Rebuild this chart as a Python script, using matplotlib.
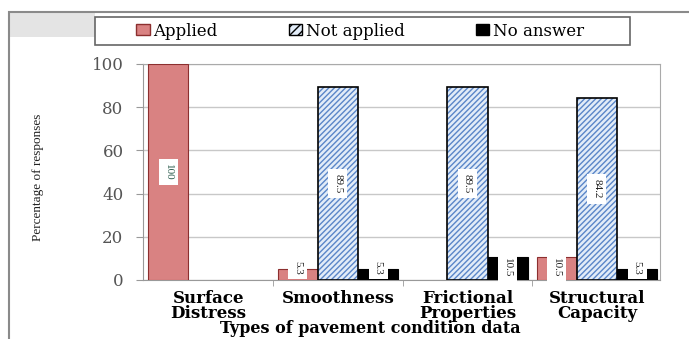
import matplotlib
matplotlib.use("Agg")
import matplotlib.pyplot as plt
from matplotlib.patches import Rectangle, Patch
import numpy as np

categories = ["Surface\nDistress", "Smoothness", "Frictional\nProperties", "Structural\nCapacity"]
series_names = ["Applied", "Not applied", "No answer"]
applied = [100, 5.3, 0, 10.5]
not_applied = [0, 89.5, 89.5, 84.2]
no_answer = [0, 5.3, 10.5, 5.3]
y_ticks = [0, 20, 40, 60, 80, 100]

serif = ["DejaVu Serif"]
plt.rcParams["font.family"] = serif

W, H = 689, 339
fig = plt.figure(figsize=(W / 100, H / 100), dpi=100)

# light grey band behind the top-left of the chart frame
fig.patches.append(Rectangle((9 / W, 1 - 37 / H), (95 - 9) / W, 25 / H, transform=fig.transFigure,
                             facecolor="#e4e4e4", edgecolor="none", zorder=0))
# outer chart frame
fig.patches.append(Rectangle((9 / W, -0.02), 1.1, 1.02 - 12 / H, transform=fig.transFigure,
                             fill=False, edgecolor="#8a8a8a", linewidth=1.5, zorder=1))

ax = fig.add_axes([143 / W, 1 - 280 / H, (660 - 143) / W, (280 - 64) / H])

x = np.arange(len(categories))
bw = 0.31

red_face, red_edge = "#d98282", "#8c2f2f"
blue_face, blue_hatch = "#e2ecf8", "#5a86c8"

def nz(vals):
    return [v if v > 0 else np.nan for v in vals]

# Applied
ax.bar(x - bw, nz(applied), bw, color=red_face, edgecolor=red_edge, linewidth=0.8, zorder=3)
# Not applied: hatched fill with blue lines, then a black outline on top
ax.bar(x, nz(not_applied), bw, color=blue_face, edgecolor=blue_hatch, hatch="//////",
       linewidth=0, zorder=3)
ax.bar(x, nz(not_applied), bw, fill=False, edgecolor="black", linewidth=1.2, zorder=4)
# No answer
ax.bar(x + bw, nz(no_answer), bw, color="black", edgecolor="black", linewidth=0.8, zorder=3)

def label(xpos, val, color="#222222"):
    if val <= 0:
        return
    ax.text(xpos, max(val / 2, 5.8), f"{val:g}", rotation=270,
            ha="center", va="center", fontsize=8, color=color, zorder=6,
            fontfamily=["Liberation Serif"],
            bbox=dict(boxstyle="square,pad=0.45", facecolor="white", edgecolor="none"))

for i in range(len(categories)):
    label(x[i] - bw, applied[i], "#2f5f50" if applied[i] >= 100 else "#222222")
    label(x[i], not_applied[i])
    label(x[i] + bw, no_answer[i])

ax.set_xlim(-0.506, 3.487)
ax.set_ylim(0, 100)
ax.set_yticks(y_ticks)
ax.set_yticklabels([str(v) for v in y_ticks], fontsize=12, color="#555555")
ax.yaxis.grid(True, color="#c8c8c8", linewidth=1.0, zorder=0)
ax.set_axisbelow(True)
ax.tick_params(axis="y", length=5, color="#999999", pad=9)
ax.set_xticks(x)
ax.set_xticklabels(categories, fontsize=12, fontweight="bold", linespacing=0.85)
ax.tick_params(axis="x", length=0, pad=7)
ax.set_xticks(x[:-1] + 0.5, minor=True)
ax.tick_params(axis="x", which="minor", length=4, color="#999999")
ax.set_xlabel("Types of pavement condition data", fontsize=11.5, fontweight="bold", labelpad=0)
ax.xaxis.set_label_coords(0.44, -0.183)

fig.text(38 / W, 1 - 177 / H, "Percentage of responses", rotation=90, ha="center", va="center",
         fontsize=9.5, fontfamily=["Liberation Serif"], color="#222222")

for s in ["top", "right"]:
    ax.spines[s].set_color("#aaaaaa")
ax.spines["left"].set_color("#999999")
ax.spines["bottom"].set_color("#999999")

# legend frame, with the entries centred inside it
fig.patches.append(Rectangle((95 / W, 1 - 45 / H), (630 - 95) / W, 28 / H, transform=fig.transFigure,
                             facecolor="white", edgecolor="#666666", linewidth=1.2, zorder=2))
handles = [Patch(facecolor=red_face, edgecolor=red_edge),
           Patch(facecolor=blue_face, edgecolor="black", hatch="////"),
           Patch(facecolor="black", edgecolor="black")]
leg = fig.legend(handles, series_names, loc="center", ncol=3,
                 bbox_to_anchor=((138 + 582) / 2 / W, 1 - 31 / H),
                 fontsize=12, frameon=False, handlelength=0.8,
                 handleheight=0.6, handletextpad=0.2, columnspacing=4.3, borderaxespad=0.0)
leg.set_zorder(3)

fig.savefig("out.png", dpi=100)
